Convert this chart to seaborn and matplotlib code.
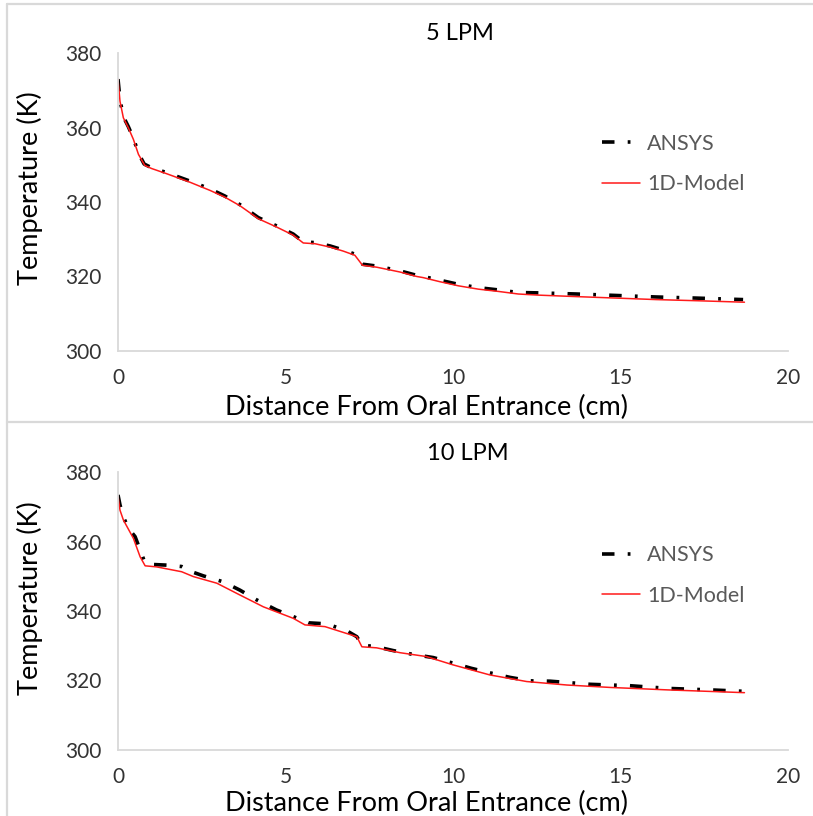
import numpy as np
import pandas as pd
import matplotlib
matplotlib.use("Agg")
import matplotlib.pyplot as plt
from matplotlib.lines import Line2D
import seaborn as sns

# ---- data: axial temperature profiles along the airway ----
dist_ansys_5 = [0.0, 0.06, 0.16, 0.31, 0.46, 0.61, 0.78, 1.0, 1.45, 2.15, 2.75, 3.19, 3.64,
                4.19, 4.73, 5.23, 5.53, 5.88, 6.33, 6.73, 7.07, 7.30, 7.72, 8.42, 8.92,
                9.11, 9.61, 10.16, 10.76, 11.35, 11.95, 12.55, 13.69, 14.89, 16.07, 17.27, 18.66]
temp_ansys_5 = [373.0, 367.4, 362.9, 360.2, 357.1, 353.1, 350.2, 349.2, 347.9, 345.6, 343.5,
                341.6, 339.3, 335.8, 333.6, 331.4, 329.3, 329.1, 328.2, 327.1, 326.0, 323.3,
                322.8, 321.5, 320.3, 320.0, 319.0, 317.9, 317.0, 316.4, 315.7, 315.6, 315.3,
                314.9, 314.5, 314.2, 313.8]

dist_model_5 = [0.0, 0.06, 0.16, 0.31, 0.46, 0.61, 0.80, 1.0, 1.45, 2.15, 2.75, 3.19, 3.64,
                4.19, 4.73, 5.23, 5.53, 5.88, 6.33, 6.73, 7.07, 7.30, 7.72, 8.42, 8.92,
                9.11, 9.61, 10.16, 10.76, 11.35, 11.95, 12.55, 13.69, 14.89, 16.07, 17.27, 18.70]
temp_model_5 = [373.0, 367.0, 362.6, 359.9, 356.8, 352.8, 349.8, 349.0, 347.6, 345.3, 343.1,
                341.3, 339.0, 335.5, 333.3, 331.1, 329.0, 328.8, 327.9, 326.8, 325.7, 323.0,
                322.5, 321.2, 320.0, 319.7, 318.6, 317.5, 316.6, 316.0, 315.3, 315.0, 314.6,
                314.2, 313.8, 313.5, 313.1]

dist_ansys_10 = [0.0, 0.06, 0.16, 0.31, 0.51, 0.66, 0.81, 1.0, 1.45, 1.9, 2.2, 2.55, 3.14,
                 3.64, 4.14, 4.73, 5.23, 5.68, 6.23, 6.83, 7.13, 7.28, 7.72, 8.22, 8.81,
                 9.41, 10.0, 10.55, 11.15, 11.7, 12.3, 12.9, 14.1, 15.28, 16.48, 17.67, 18.66]
temp_ansys_10 = [373.4, 370.5, 367.1, 363.8, 361.4, 357.6, 353.7, 353.4, 353.2, 352.8, 351.3,
                 350.1, 348.4, 346.0, 343.2, 340.3, 338.4, 336.6, 336.3, 334.3, 332.6, 330.2,
                 329.7, 328.6, 327.5, 326.6, 325.0, 323.5, 322.1, 320.9, 319.9, 319.8, 318.9,
                 318.5, 317.7, 317.3, 316.9]

dist_model_10 = [0.0, 0.06, 0.16, 0.46, 0.66, 0.81, 1.15, 1.9, 2.25, 2.95, 3.64, 4.34, 5.23,
                 5.58, 6.18, 7.13, 7.28, 7.72, 8.42, 9.2, 10.0, 11.1, 12.2, 13.4, 14.7,
                 16.4, 18.7]
temp_model_10 = [373.0, 369.0, 366.2, 360.9, 355.6, 353.0, 352.7, 351.3, 349.9, 348.0, 344.6,
                 341.2, 337.9, 336.0, 335.5, 332.6, 329.7, 329.4, 328.0, 326.9, 324.5, 321.6,
                 319.7, 318.7, 318.0, 317.3, 316.5]

panel_titles = ["5 LPM", "10 LPM"]
series_names = ["ANSYS", "1D-Model"]
x_ticks = [0, 5, 10, 15, 20]
y_ticks = [300, 320, 340, 360, 380]

# ---- style ----
sns.set_theme(style="white")
plt.rcParams["font.family"] = ["Lato", "DejaVu Sans"]
plt.rcParams["lines.scale_dashes"] = False

W, H, DPI = 813, 816, 100
fig = plt.figure(figsize=(W / DPI, H / DPI), dpi=DPI)

GRID = "#d9d9d9"
TICK_COLOR = "#333333"
LEGEND_COLOR = "#595959"
ANSYS_STYLE = (0, (9.0, 9.5, 2.0, 9.5))


def px_rect(left, top, right, bottom):
    return [left / W, 1 - bottom / H, (right - left) / W, (bottom - top) / H]


# panel frames
frame_kw = dict(color=GRID, lw=1.6, transform=fig.transFigure)
fig.add_artist(Line2D([6.5 / W, 6.5 / W], [0, 1 - 3.5 / H], **frame_kw))
fig.add_artist(Line2D([6.5 / W, 1], [1 - 3.5 / H, 1 - 3.5 / H], **frame_kw))
fig.add_artist(Line2D([6.5 / W, 1], [1 - 422 / H, 1 - 422 / H], **frame_kw))

panels = [
    dict(rect=px_rect(118, 53, 788, 351), title=panel_titles[0], title_xy=(460, 34),
         ansys=(dist_ansys_5, temp_ansys_5), model=(dist_model_5, temp_model_5)),
    dict(rect=px_rect(118, 472, 788, 750), title=panel_titles[1], title_xy=(468, 453),
         ansys=(dist_ansys_10, temp_ansys_10), model=(dist_model_10, temp_model_10)),
]

for p in panels:
    ax = fig.add_axes(p["rect"])
    df_a = pd.DataFrame({"x": p["ansys"][0], "T": p["ansys"][1]})
    df_m = pd.DataFrame({"x": p["model"][0], "T": p["model"][1]})
    sns.lineplot(data=df_a, x="x", y="T", ax=ax, color="black", lw=2.6,
                 linestyle=ANSYS_STYLE, label=series_names[0], sort=False)
    sns.lineplot(data=df_m, x="x", y="T", ax=ax, color="#ff1a1a", lw=1.1,
                 label=series_names[1], sort=False)

    ax.set_xlim(0, 20)
    ax.set_ylim(300, 380)
    ax.set_xticks(x_ticks)
    ax.set_yticks(y_ticks)
    ax.tick_params(axis="both", length=0, labelsize=15, labelcolor=TICK_COLOR, pad=12)

    for side in ("top", "right"):
        ax.spines[side].set_visible(False)
    for side in ("left", "bottom"):
        ax.spines[side].set_color(GRID)
        ax.spines[side].set_linewidth(1.3)

    ax.set_xlabel("Distance From Oral Entrance (cm)", fontsize=19.5, color="black")
    ax.set_ylabel("Temperature (K)", fontsize=19.5, color="black")
    ax.xaxis.set_label_coords(0.461, -0.148)
    ax.yaxis.set_label_coords(-0.112, 0.545)

    fig.text(p["title_xy"][0] / W, 1 - p["title_xy"][1] / H, p["title"],
             fontsize=17, color="black", ha="center", va="center")

    leg = ax.legend(loc="center left", bbox_to_anchor=(0.7224, 0.627), frameon=False,
                    fontsize=15.5, handlelength=1.78, handletextpad=0.33,
                    labelspacing=0.95, borderpad=0, borderaxespad=0)
    for t in leg.get_texts():
        t.set_color(LEGEND_COLOR)

fig.savefig("out.png", dpi=DPI, facecolor="white")
